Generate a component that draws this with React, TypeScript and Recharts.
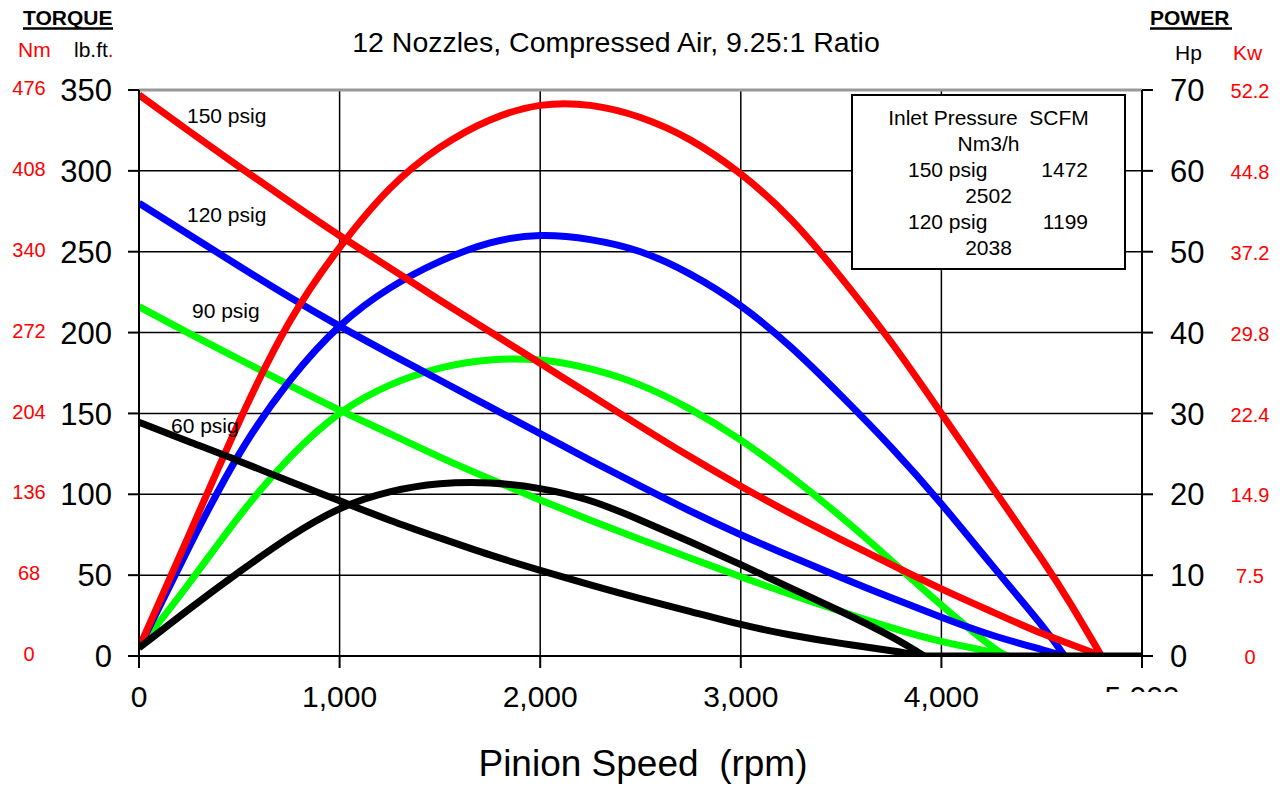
import React from 'react';
import { LineChart, Line, XAxis, YAxis, CartesianGrid, ReferenceLine } from 'recharts';

const FONT = '"Liberation Sans", Arial, Helvetica, sans-serif';

// ---- axis ticks & labels ----
const rpmTicks = [0, 1000, 2000, 3000, 4000, 5000];
const rpmTickLabels = ['0', '1,000', '2,000', '3,000', '4,000', '5,000'];
const torqueTicks = [0, 50, 100, 150, 200, 250, 300, 350];
const torqueTickLabels = ['0', '50', '100', '150', '200', '250', '300', '350'];
const nmTickLabels = ['0', '68', '136', '204', '272', '340', '408', '476'];
const hpTicks = [0, 10, 20, 30, 40, 50, 60, 70];
const hpTickLabels = ['0', '10', '20', '30', '40', '50', '60', '70'];
const kwTickLabels = ['0', '7.5', '14.9', '22.4', '29.8', '37.2', '44.8', '52.2'];
const minorRpmTicks = Array.from({ length: 26 }, (_, i) => i * 200);
const minorTorqueTicks = Array.from({ length: 71 }, (_, i) => i * 5);
const minorHpTicks = Array.from({ length: 71 }, (_, i) => i);

// ---- 150 psig (red) ----
const rpm150 = [0, 250, 500, 750, 1000, 1250, 1500, 1750, 2000, 2250, 2500, 2750, 3000, 3250, 3500, 3750, 4000, 4250, 4500, 4650, 4798];
const torque150 = [347, 324.5, 302.5, 281, 260, 240, 220, 200.5, 181, 161.5, 142, 123, 105, 88, 72, 56.5, 41.5, 27.5, 14, 7, 0];
const power150 = [1, 15, 29, 41.3, 50.5, 57.8, 62.9, 66.3, 68.1, 68.1, 66.6, 63.8, 59.6, 54, 46.8, 38.8, 30, 21, 12, 6.2, 0];

// ---- 120 psig (blue) ----
const rpm120 = [0, 250, 500, 750, 1000, 1250, 1500, 1750, 2000, 2250, 2500, 2750, 3000, 3250, 3500, 3750, 4000, 4250, 4500, 4614];
const torque120 = [280, 260.5, 241, 222, 204, 187, 170.5, 154, 137.5, 121, 105, 89.5, 75, 61.5, 48.5, 36, 24, 13, 4, 0];
const power120 = [1, 13.5, 25, 34, 40.8, 45.5, 48.8, 51.1, 52, 51.5, 50, 47.2, 43.3, 38.2, 32.2, 25.8, 18.8, 11.3, 3.8, 0];

// ---- 90 psig (green) ----
const rpm90 = [0, 250, 500, 750, 1000, 1250, 1500, 1750, 2000, 2250, 2500, 2750, 3000, 3250, 3500, 3750, 4000, 4250, 4332];
const torque90 = [216, 199.5, 183.5, 167.5, 152, 137.5, 123, 109.5, 96.5, 84, 72, 60.5, 49, 38, 27.5, 17.5, 9, 2.5, 0];
const power90 = [1, 9, 17.3, 24.5, 30, 33.5, 35.6, 36.6, 36.6, 35.5, 33.5, 30.5, 26.7, 22.2, 17.2, 11.8, 6.3, 1.2, 0];

// ---- 60 psig (black) ----
const rpm60 = [0, 250, 500, 750, 1000, 1250, 1500, 1750, 2000, 2250, 2500, 2750, 3000, 3250, 3500, 3750, 3914];
const torque60 = [144.5, 132.5, 120.5, 108, 96, 84, 73, 62.5, 53, 44, 35.5, 27.5, 19.5, 13, 7.8, 3.3, 0];
const power60 = [1, 5.8, 10.4, 14.7, 18.2, 20.3, 21.3, 21.4, 20.7, 19.2, 16.8, 14.1, 11.3, 8.4, 5.5, 2.4, 0];
// 60 psig after stall: zero torque / zero power to the end of the axis
const rpm60Tail = [3914, 5000];
const zero60Tail = [0, 0];

const build = (rpm: number[], torque: number[], power: number[]) =>
  rpm.map((r, i) => ({ rpm: r, torque: torque[i], power: power[i] }));

const data150 = build(rpm150, torque150, power150);
const data120 = build(rpm120, torque120, power120);
const data90 = build(rpm90, torque90, power90);
const data60 = build(rpm60, torque60, power60);
const data60Tail = build(rpm60Tail, zero60Tail, zero60Tail);

const LeftTick = (props: any) => {
  const { y, payload } = props;
  const i = torqueTicks.indexOf(payload.value);
  return (
    <g>
      <text x={112} y={y} dy="0.36em" textAnchor="end" fontSize={31} fill="#000" fontFamily={FONT}>
        {torqueTickLabels[i]}
      </text>
      <text x={29} y={y - 2} dy="0.36em" textAnchor="middle" fontSize={20} fill="#ff0000" fontFamily={FONT}>
        {nmTickLabels[i]}
      </text>
    </g>
  );
};

const RightTick = (props: any) => {
  const { y, payload } = props;
  const i = hpTicks.indexOf(payload.value);
  return (
    <g>
      <text x={1170} y={y} dy="0.36em" textAnchor="start" fontSize={31} fill="#000" fontFamily={FONT}>
        {hpTickLabels[i]}
      </text>
      <text x={1250} y={y + 1} dy="0.36em" textAnchor="middle" fontSize={20} fill="#ff0000" fontFamily={FONT}>
        {kwTickLabels[i]}
      </text>
    </g>
  );
};

const BottomTick = (props: any) => {
  const { x, payload } = props;
  const i = rpmTicks.indexOf(payload.value);
  return (
    <text x={x} y={696} dy="0.36em" textAnchor="middle" fontSize={30} fill="#000" fontFamily={FONT}>
      {rpmTickLabels[i]}
    </text>
  );
};

const SW = 7;
const CURVE = 'natural';

export default function App() {
  return (
    <div style={{ position: 'absolute', left: 0, top: 0, width: 1284, height: 787, background: '#fff', fontFamily: FONT }}>
      <LineChart width={1284} height={787} margin={{ top: 90, right: 0, bottom: 0, left: 0 }}>
        <CartesianGrid yAxisId="left" stroke="#000" strokeWidth={1.5} />
        <XAxis
          type="number"
          dataKey="rpm"
          domain={[0, 5000]}
          ticks={rpmTicks}
          interval={0}
          allowDataOverflow
          height={131}
          tickSize={12}
          axisLine={{ stroke: '#000', strokeWidth: 2 }}
          tickLine={{ stroke: '#000', strokeWidth: 2 }}
          tick={<BottomTick />}
        />
        <XAxis
          xAxisId="minor"
          type="number"
          dataKey="rpm"
          domain={[0, 5000]}
          ticks={minorRpmTicks}
          interval={0}
          mirror
          height={0}
          tickSize={8}
          axisLine={false}
          tickLine={{ stroke: '#000', strokeWidth: 1.5 }}
          tick={false}
        />
        <YAxis
          yAxisId="left"
          type="number"
          domain={[0, 350]}
          ticks={torqueTicks}
          interval={0}
          allowDataOverflow
          width={139}
          tickSize={11}
          axisLine={{ stroke: '#000', strokeWidth: 2 }}
          tickLine={{ stroke: '#000', strokeWidth: 2 }}
          tick={<LeftTick />}
        />
        <YAxis
          yAxisId="leftMinor"
          type="number"
          domain={[0, 350]}
          ticks={minorTorqueTicks}
          interval={0}
          mirror
          width={0}
          tickSize={8}
          axisLine={false}
          tickLine={{ stroke: '#000', strokeWidth: 1.5 }}
          tick={false}
        />
        <YAxis
          yAxisId="right"
          orientation="right"
          type="number"
          domain={[0, 70]}
          ticks={hpTicks}
          interval={0}
          allowDataOverflow
          width={142}
          tickSize={11}
          axisLine={{ stroke: '#000', strokeWidth: 2 }}
          tickLine={{ stroke: '#000', strokeWidth: 2 }}
          tick={<RightTick />}
        />
        <YAxis
          yAxisId="rightMinor"
          orientation="right"
          type="number"
          domain={[0, 70]}
          ticks={minorHpTicks}
          interval={0}
          mirror
          width={0}
          tickSize={8}
          axisLine={false}
          tickLine={{ stroke: '#000', strokeWidth: 1.5 }}
          tick={false}
        />

        <Line data={data90} yAxisId="left" dataKey="torque" type={CURVE} stroke="#00ff00" strokeWidth={SW} dot={false} activeDot={false} isAnimationActive={false} />
        <Line data={data90} yAxisId="right" dataKey="power" type={CURVE} stroke="#00ff00" strokeWidth={SW} dot={false} activeDot={false} isAnimationActive={false} />
        <Line data={data120} yAxisId="left" dataKey="torque" type={CURVE} stroke="#0000ff" strokeWidth={SW} dot={false} activeDot={false} isAnimationActive={false} />
        <Line data={data120} yAxisId="right" dataKey="power" type={CURVE} stroke="#0000ff" strokeWidth={SW} dot={false} activeDot={false} isAnimationActive={false} />
        <Line data={data150} yAxisId="left" dataKey="torque" type={CURVE} stroke="#ff0000" strokeWidth={SW} dot={false} activeDot={false} isAnimationActive={false} />
        <Line data={data150} yAxisId="right" dataKey="power" type={CURVE} stroke="#ff0000" strokeWidth={SW} dot={false} activeDot={false} isAnimationActive={false} />
        <Line data={data60} yAxisId="left" dataKey="torque" type={CURVE} stroke="#000000" strokeWidth={SW} dot={false} activeDot={false} isAnimationActive={false} />
        <Line data={data60} yAxisId="right" dataKey="power" type={CURVE} stroke="#000000" strokeWidth={SW} dot={false} activeDot={false} isAnimationActive={false} />
        <Line data={data60Tail} yAxisId="left" dataKey="torque" type="linear" stroke="#000000" strokeWidth={SW} dot={false} activeDot={false} isAnimationActive={false} />

        <ReferenceLine yAxisId="left" y={350} stroke="#999999" strokeWidth={3} />
      </LineChart>

      <svg
        width={1284}
        height={787}
        style={{ position: 'absolute', left: 0, top: 0, pointerEvents: 'none' }}
        fontFamily={FONT}
      >
        {/* clipped 5,000 label */}
        <rect x={1088} y={692} width={104} height={40} fill="#fff" />

        {/* header left */}
        <text x={23} y={25} fontSize={21} fontWeight="bold" fill="#000">TORQUE</text>
        <line x1={23} y1={28.5} x2={113} y2={28.5} stroke="#000" strokeWidth={2.5} />
        <text x={18} y={57} fontSize={21} fill="#ff0000">Nm</text>
        <text x={74} y={57} fontSize={21} fill="#000">
          lb.ft<tspan fill="#ff0000">.</tspan>
        </text>

        {/* header right */}
        <text x={1150} y={25} fontSize={21} fontWeight="bold" fill="#000">POWER</text>
        <line x1={1150} y1={28.5} x2={1232} y2={28.5} stroke="#000" strokeWidth={2.5} />
        <text x={1175} y={60} fontSize={21} fill="#000">Hp</text>
        <text x={1233} y={60} fontSize={21} fill="#ff0000">Kw</text>

        {/* title */}
        <text x={616} y={52} fontSize={28.5} textAnchor="middle" fill="#000">
          12 Nozzles, Compressed Air, 9.25:1 Ratio
        </text>

        {/* x axis title */}
        <text x={643} y={776} fontSize={37} textAnchor="middle" fill="#000" style={{ whiteSpace: 'pre' }}>
          {'Pinion Speed  (rpm)'}
        </text>

        {/* curve labels */}
        <text x={187} y={123} fontSize={21} fill="#000">150 psig</text>
        <text x={187} y={222} fontSize={21} fill="#000">120 psig</text>
        <text x={192} y={318} fontSize={21} fill="#000">90 psig</text>
        <text x={171} y={433} fontSize={21} fill="#000">60 psig</text>

        {/* legend box */}
        <rect x={852} y={95} width={273} height={174} fill="#fff" stroke="#000" strokeWidth={2} />
        <text x={988.5} y={125} fontSize={21} textAnchor="middle" fill="#000" style={{ whiteSpace: 'pre' }}>
          {'Inlet Pressure  SCFM'}
        </text>
        <text x={988.5} y={151} fontSize={21} textAnchor="middle" fill="#000">Nm3/h</text>
        <text x={908} y={177} fontSize={21} fill="#000">150 psig</text>
        <text x={1088} y={177} fontSize={21} textAnchor="end" fill="#000">1472</text>
        <text x={988.5} y={203} fontSize={21} textAnchor="middle" fill="#000">2502</text>
        <text x={908} y={229} fontSize={21} fill="#000">120 psig</text>
        <text x={1088} y={229} fontSize={21} textAnchor="end" fill="#000">1199</text>
        <text x={988.5} y={255} fontSize={21} textAnchor="middle" fill="#000">2038</text>
      </svg>
    </div>
  );
}
